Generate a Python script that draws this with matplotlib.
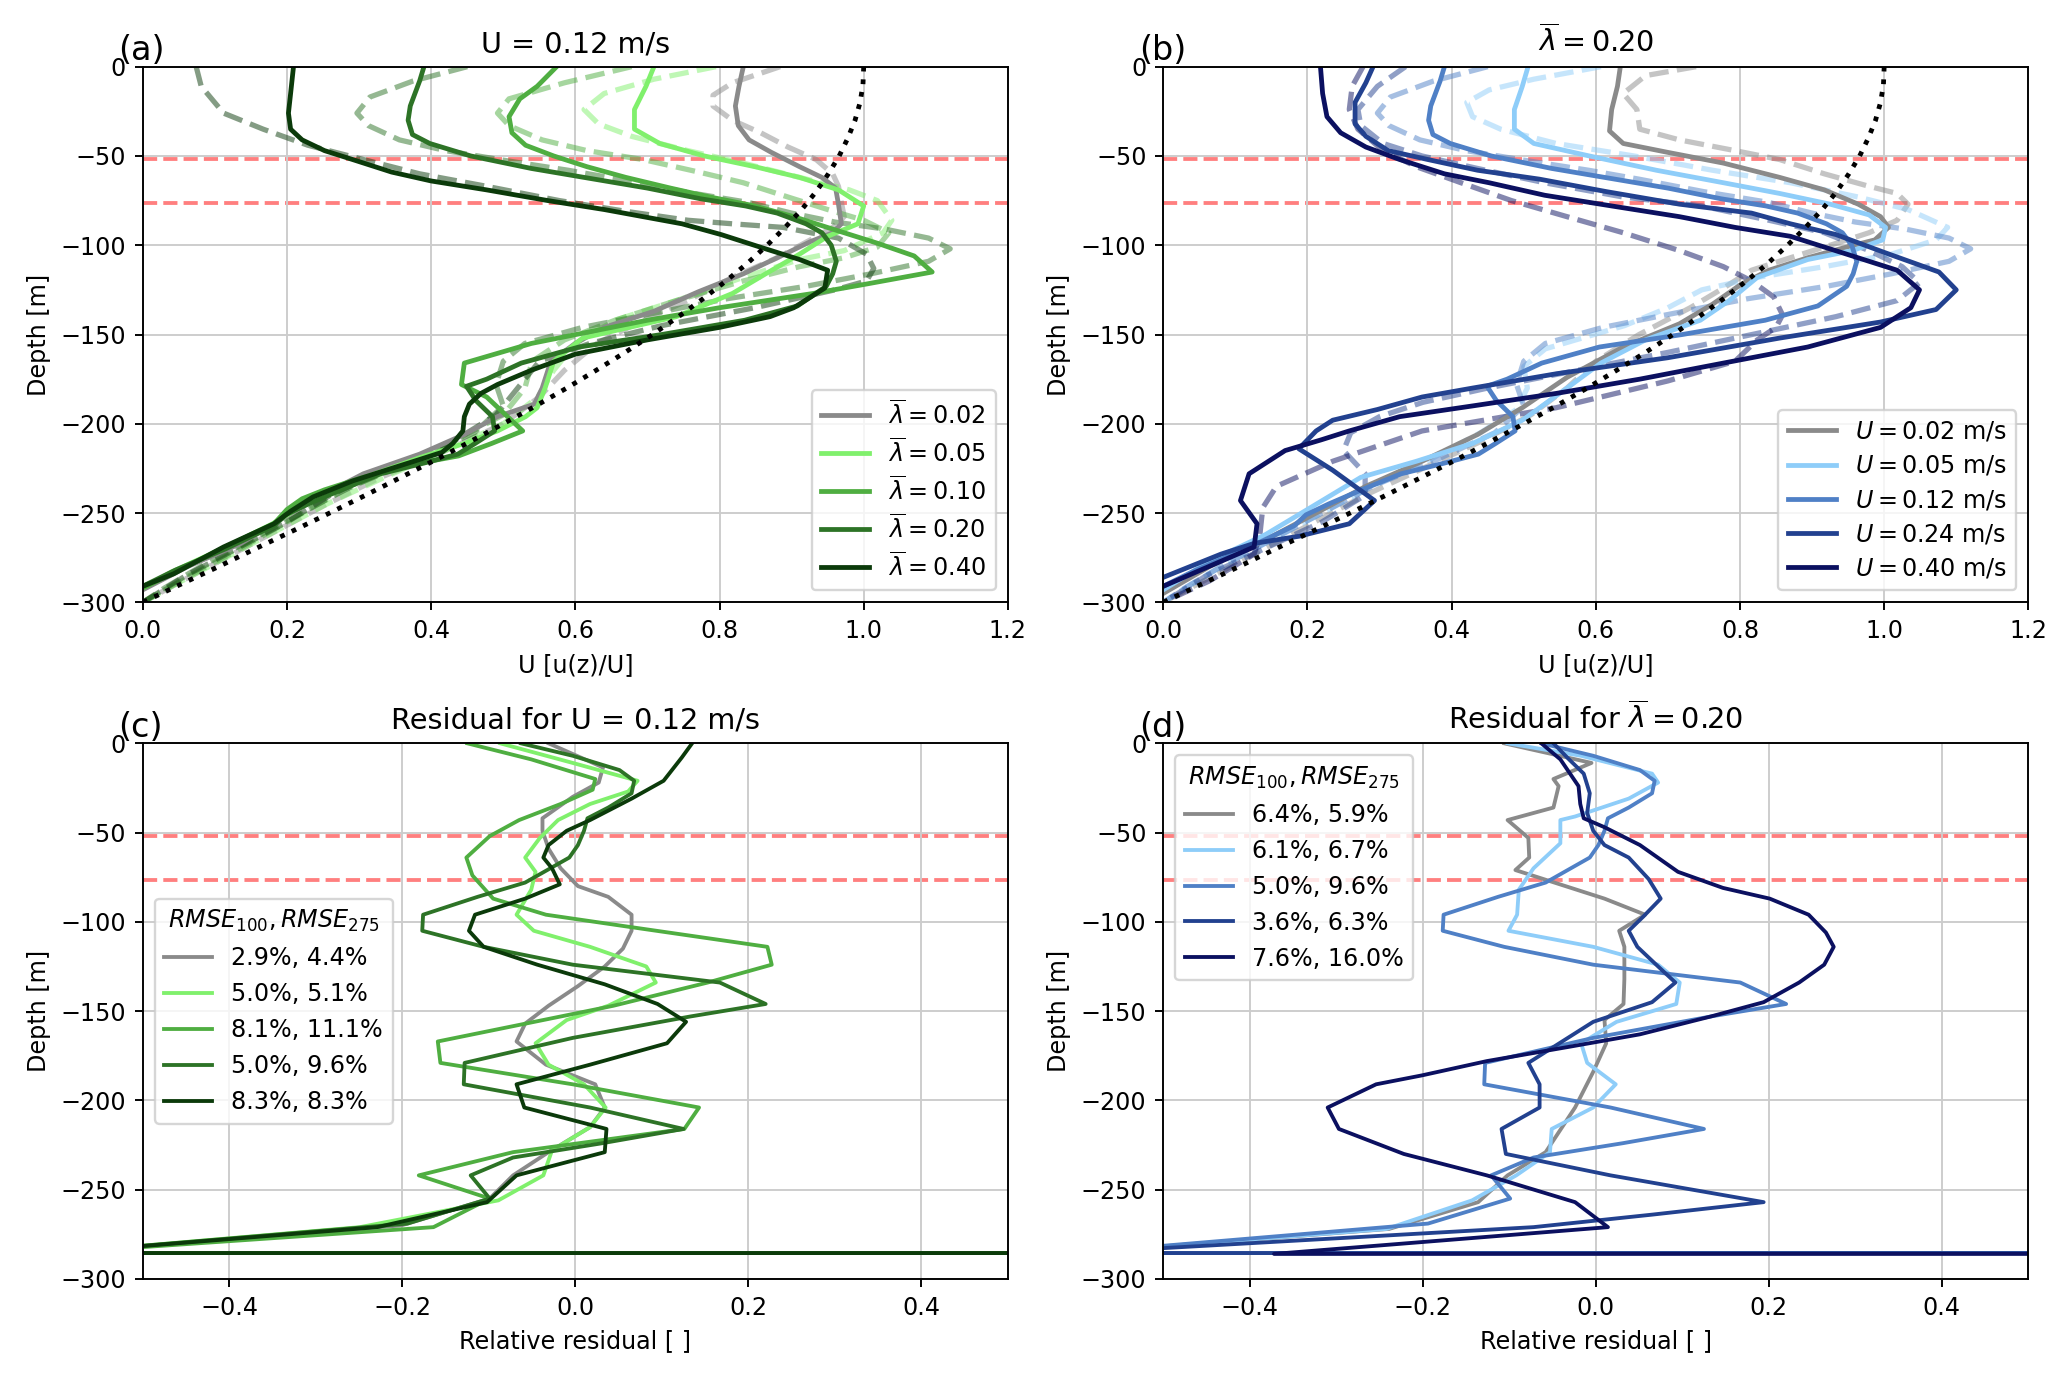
import matplotlib
matplotlib.use("Agg")
import matplotlib.pyplot as plt

# ---------------- data ----------------
# reference profile (dotted)
ref_z = [0, -10, -20, -30, -40, -50, -60, -70, -80, -90, -100, -110, -120, -130, -140, -150,
         -160, -170, -180, -190, -200, -210, -220, -230, -240, -250, -260, -270, -280, -290, -300]
ref_u = [1.000, 0.999, 0.995, 0.988, 0.978, 0.966, 0.951, 0.934, 0.914, 0.891, 0.866, 0.839,
         0.809, 0.777, 0.743, 0.707, 0.669, 0.629, 0.588, 0.545, 0.500, 0.454, 0.407, 0.358,
         0.309, 0.259, 0.208, 0.156, 0.105, 0.052, 0.0]

red_depths = [-51.8, -76.6]

# panel (a): U = 0.12 m/s, varying lambda
lam_labels = ["0.02", "0.05", "0.10", "0.20", "0.40"]

a_z_lam002 = [0, -11, -22, -33, -41, -48, -56, -62, -68, -77, -88, -93, -98, -107, -116, -126, -137,
              -146, -155, -165, -180, -189, -196, -206, -217, -228, -241, -252, -267, -280, -293]
a_u_lam002 = [0.833, 0.827, 0.822, 0.826, 0.841, 0.872, 0.911, 0.942, 0.961, 0.965, 0.969, 0.957,
              0.926, 0.880, 0.833, 0.771, 0.709, 0.640, 0.600, 0.566, 0.554, 0.543, 0.492, 0.446,
              0.384, 0.306, 0.244, 0.198, 0.136, 0.062, 0.0]

a_z_lam005 = [0, -11, -24, -35, -43, -50, -56, -62, -69, -78, -88, -95, -105, -116, -127, -140, -152,
              -165, -180, -191, -196, -204, -211, -219, -228, -237, -246, -256, -270, -283, -292]
a_u_lam005 = [0.709, 0.698, 0.682, 0.682, 0.717, 0.779, 0.849, 0.911, 0.965, 1.000, 0.992, 0.950,
              0.911, 0.864, 0.818, 0.740, 0.610, 0.570, 0.558, 0.547, 0.531, 0.492, 0.446, 0.384,
              0.322, 0.260, 0.221, 0.180, 0.110, 0.040, 0.0]

a_z_lam010 = [0, -11, -18, -28, -37, -44, -50, -56, -62, -68, -73, -78, -84, -92, -99, -106, -115,
              -122, -127, -135, -142, -155, -166, -178, -185, -204, -211, -218, -222, -230, -237,
              -242, -248, -256, -270, -283, -292]
a_u_lam010 = [0.574, 0.547, 0.523, 0.508, 0.512, 0.531, 0.570, 0.616, 0.670, 0.732, 0.787, 0.849,
              0.903, 0.965, 1.020, 1.070, 1.095, 1.000, 0.930, 0.800, 0.700, 0.539, 0.446, 0.442,
              0.477, 0.527, 0.484, 0.438, 0.384, 0.306, 0.252, 0.221, 0.200, 0.182, 0.110, 0.045, 0.0]

# lambda = 0.20 at U = 0.12 m/s (shared by panels a and b)
z_lam020_U012 = [0, -8, -22, -30, -38, -43, -50, -57, -62, -68, -74, -78, -82, -88, -93, -100, -109,
                 -116, -123, -134, -142, -150, -157, -166, -175, -179, -187, -196, -204, -211, -217,
                 -222, -228, -237, -245, -251, -257, -270, -282, -291]
u_lam020_U012 = [0.390, 0.384, 0.371, 0.368, 0.374, 0.398, 0.455, 0.539, 0.612, 0.700, 0.774, 0.836,
                 0.880, 0.920, 0.942, 0.955, 0.962, 0.957, 0.948, 0.908, 0.835, 0.720, 0.605, 0.525,
                 0.477, 0.449, 0.462, 0.485, 0.488, 0.461, 0.437, 0.390, 0.330, 0.275, 0.229, 0.198,
                 0.182, 0.115, 0.045, 0.0]

a_z_lam040 = [0, -15, -26, -35, -41, -47, -52, -59, -64, -69, -75, -80, -84, -88, -94, -101, -108,
              -114, -124, -135, -140, -146, -153, -161, -170, -178, -183, -189, -196, -204, -211,
              -216, -220, -225, -232, -241, -249, -256, -269, -284, -291]
a_u_lam040 = [0.209, 0.205, 0.202, 0.205, 0.221, 0.252, 0.291, 0.345, 0.400, 0.477, 0.562, 0.640,
              0.694, 0.748, 0.802, 0.856, 0.911, 0.950, 0.946, 0.903, 0.870, 0.800, 0.700, 0.600,
              0.539, 0.492, 0.469, 0.453, 0.446, 0.444, 0.430, 0.415, 0.384, 0.345, 0.291, 0.236,
              0.205, 0.182, 0.112, 0.043, 0.0]

# dashed comparison profiles, panel (a)
a_z_ref002 = [0, -9, -16, -22, -30, -37, -45, -52, -60, -67, -76, -84, -90, -97, -107, -118, -131,
              -142, -155, -170, -185, -200, -215, -230, -245, -260, -275, -290, -300]
a_u_ref002 = [0.884, 0.818, 0.791, 0.791, 0.818, 0.857, 0.895, 0.934, 0.957, 0.965, 0.969, 0.973,
              0.957, 0.926, 0.880, 0.818, 0.756, 0.694, 0.630, 0.585, 0.550, 0.500, 0.420, 0.330,
              0.255, 0.185, 0.115, 0.045, 0.0]

a_z_ref005 = [0, -7, -15, -24, -32, -39, -47, -54, -62, -69, -75, -86, -93, -103, -108, -118, -131,
              -142, -155, -170, -185, -200, -215, -230, -245, -260, -275, -290, -300]
a_u_ref005 = [0.795, 0.709, 0.640, 0.612, 0.632, 0.678, 0.756, 0.833, 0.911, 0.980, 1.019, 1.039,
              1.027, 0.973, 0.911, 0.833, 0.740, 0.655, 0.600, 0.570, 0.548, 0.500, 0.420, 0.335,
              0.255, 0.185, 0.115, 0.045, 0.0]

a_z_ref010 = [0, -9, -18, -26, -33, -41, -47, -52, -59, -65, -73, -80, -86, -93, -101, -107, -112,
              -120, -131, -142, -153, -165, -180, -195, -210, -225, -240, -255, -270, -285, -300]
a_u_ref010 = [0.678, 0.585, 0.508, 0.492, 0.508, 0.554, 0.616, 0.694, 0.771, 0.833, 0.895, 0.950,
              1.000, 1.035, 1.019, 0.973, 0.911, 0.833, 0.740, 0.655, 0.585, 0.540, 0.530, 0.500,
              0.430, 0.345, 0.265, 0.200, 0.135, 0.065, 0.0]

z_ref_lam020_U012 = [0, -8, -17, -26, -33, -41, -47, -53, -58, -63, -70, -76, -82, -87, -91, -96,
                     -102, -109, -116, -123, -130, -138, -146, -155, -165, -178, -190, -205, -220,
                     -235, -250, -265, -280, -292, -300]
u_ref_lam020_U012 = [0.450, 0.375, 0.315, 0.297, 0.313, 0.356, 0.420, 0.510, 0.590, 0.660, 0.750,
                     0.840, 0.900, 0.960, 1.030, 1.090, 1.120, 1.090, 1.010, 0.920, 0.810, 0.710,
                     0.610, 0.530, 0.500, 0.490, 0.500, 0.460, 0.380, 0.290, 0.220, 0.150, 0.080,
                     0.030, 0.0]

a_z_ref040 = [0, -11, -26, -35, -44, -52, -60, -67, -75, -81, -86, -88, -90, -96, -105, -113, -120,
              -125, -135, -145, -155, -165, -180, -195, -210, -225, -240, -255, -270, -285, -300]
a_u_ref040 = [0.074, 0.081, 0.112, 0.167, 0.229, 0.306, 0.384, 0.477, 0.578, 0.670, 0.756, 0.818,
              0.888, 0.965, 1.004, 1.014, 1.004, 0.960, 0.849, 0.720, 0.620, 0.550, 0.520, 0.490,
              0.430, 0.340, 0.260, 0.200, 0.130, 0.060, 0.0]

# panel (b): lambda = 0.20, varying U
U_labels = ["0.02", "0.05", "0.12", "0.24", "0.40"]

b_z_U002 = [0, -11, -24, -36, -43, -48, -54, -62, -69, -77, -84, -90, -97, -101, -107, -114, -122,
            -133, -144, -157, -174, -191, -206, -221, -235, -250, -265, -280, -295]
b_u_U002 = [0.634, 0.630, 0.622, 0.619, 0.638, 0.700, 0.777, 0.855, 0.917, 0.964, 0.995, 1.006,
            0.987, 0.948, 0.894, 0.840, 0.801, 0.762, 0.716, 0.638, 0.560, 0.498, 0.436, 0.359,
            0.281, 0.212, 0.142, 0.064, 0.0]

b_z_U005 = [0, -11, -24, -35, -43, -50, -58, -65, -71, -77, -83, -90, -97, -103, -108, -118, -131,
            -142, -153, -166, -180, -198, -211, -221, -230, -247, -262, -277, -293]
b_u_U005 = [0.506, 0.498, 0.487, 0.487, 0.514, 0.591, 0.684, 0.777, 0.855, 0.925, 0.979, 1.002,
            0.998, 0.956, 0.894, 0.824, 0.785, 0.745, 0.669, 0.607, 0.560, 0.498, 0.429, 0.351,
            0.274, 0.204, 0.142, 0.064, 0.0]

b_z_U024 = [0, -9, -20, -32, -39, -47, -52, -58, -63, -70, -77, -82, -88, -94, -104, -115, -125,
            -136, -143, -152, -163, -172, -180, -185, -192, -198, -204, -214, -226, -243, -256,
            -263, -267, -273, -286]
b_u_U024 = [0.291, 0.281, 0.266, 0.266, 0.281, 0.312, 0.367, 0.436, 0.522, 0.615, 0.716, 0.816,
            0.870, 0.933, 1.000, 1.076, 1.100, 1.072, 0.995, 0.855, 0.700, 0.545, 0.429, 0.359,
            0.297, 0.235, 0.212, 0.188, 0.235, 0.293, 0.258, 0.188, 0.126, 0.080, 0.0]

b_z_U040 = [0, -15, -28, -37, -45, -52, -60, -65, -72, -78, -84, -90, -95, -105, -114, -125, -135,
            -146, -157, -166, -175, -183, -190, -196, -204, -209, -215, -228, -243, -256, -269,
            -277, -291]
b_u_U040 = [0.218, 0.221, 0.227, 0.246, 0.281, 0.328, 0.390, 0.452, 0.529, 0.622, 0.716, 0.793,
            0.870, 0.948, 1.018, 1.049, 1.037, 0.995, 0.894, 0.777, 0.661, 0.545, 0.429, 0.328,
            0.258, 0.219, 0.169, 0.119, 0.107, 0.130, 0.126, 0.080, 0.0]

b_z_ref002 = [0, -5, -15, -24, -35, -41, -47, -52, -60, -67, -71, -77, -86, -93, -99, -107, -114,
              -124, -135, -150, -165, -180, -195, -210, -225, -240, -255, -270, -285, -300]
b_u_ref002 = [0.739, 0.669, 0.638, 0.657, 0.661, 0.716, 0.793, 0.855, 0.917, 0.979, 1.018, 1.033,
              1.018, 0.979, 0.933, 0.870, 0.816, 0.777, 0.731, 0.660, 0.600, 0.560, 0.510, 0.440,
              0.360, 0.280, 0.210, 0.140, 0.070, 0.0]

b_z_ref005 = [0, -7, -13, -20, -28, -35, -43, -50, -58, -65, -73, -80, -90, -97, -105, -112, -118,
              -125, -135, -145, -158, -168, -180, -192, -205, -220, -235, -250, -265, -280, -292, -300]
b_u_ref005 = [0.607, 0.514, 0.452, 0.421, 0.429, 0.468, 0.545, 0.653, 0.762, 0.870, 0.964, 1.033,
              1.088, 1.072, 1.010, 0.917, 0.824, 0.747, 0.700, 0.640, 0.530, 0.500, 0.505, 0.490,
              0.440, 0.370, 0.290, 0.220, 0.150, 0.080, 0.030, 0.0]

b_z_ref024 = [0, -11, -24, -33, -43, -50, -57, -65, -73, -78, -86, -93, -103, -112, -121, -131,
              -140, -148, -160, -172, -180, -188, -196, -205, -215, -228, -240, -255, -270, -285, -300]
b_u_ref024 = [0.336, 0.297, 0.270, 0.274, 0.305, 0.359, 0.436, 0.529, 0.638, 0.747, 0.840, 0.917,
              0.979, 1.025, 1.049, 1.018, 0.933, 0.840, 0.700, 0.550, 0.450, 0.360, 0.300, 0.260,
              0.250, 0.280, 0.280, 0.220, 0.140, 0.060, 0.0]

b_z_ref040 = [0, -11, -24, -35, -47, -56, -65, -75, -84, -93, -103, -112, -120, -129, -139, -146,
              -153, -165, -176, -191, -204, -221, -235, -247, -262, -273, -288, -300]
b_u_ref040 = [0.277, 0.262, 0.258, 0.270, 0.305, 0.351, 0.413, 0.483, 0.560, 0.638, 0.716, 0.777,
              0.816, 0.847, 0.859, 0.850, 0.824, 0.793, 0.700, 0.545, 0.359, 0.235, 0.157, 0.138,
              0.134, 0.126, 0.064, 0.0]

# panel (c): residuals for U = 0.12 m/s
c_labels = ["2.9%, 4.4%", "5.0%, 5.1%", "8.1%, 11.1%", "5.0%, 9.6%", "8.3%, 8.3%"]

c_z_lam002 = [0, -13.5, -22, -30, -42, -49, -59, -70, -80, -86, -96, -105, -115, -125, -136, -147,
              -157, -167, -180, -191, -204, -215, -229, -242, -255, -270, -285.5, -286.2]
c_r_lam002 = [-0.031, 0.032, 0.027, -0.003, -0.038, -0.038, -0.031, -0.017, 0.003, 0.038, 0.065,
              0.065, 0.055, 0.034, 0.003, -0.031, -0.058, -0.068, -0.034, 0.023, 0.034, 0.017,
              -0.031, -0.072, -0.099, -0.201, -0.60, 40.0]

c_z_lam005 = [0, -11, -21, -27, -34, -43, -53, -64, -72, -82, -96, -105, -114, -125, -134, -147,
              -155, -168, -180, -191, -204, -215, -228, -242, -256, -271, -285.5, -286.2]
c_r_lam005 = [-0.087, -0.003, 0.072, 0.061, 0.017, -0.020, -0.041, -0.058, -0.046, -0.051, -0.068,
              -0.048, 0.017, 0.082, 0.093, 0.038, -0.010, -0.046, -0.031, 0.010, 0.035, 0.017,
              -0.027, -0.037, -0.089, -0.249, -0.60, 40.0]

c_z_lam010 = [0, -9, -20, -26, -34, -43, -52, -64, -74, -87, -96, -103, -114, -124, -134, -147,
              -167, -179, -191, -204, -216, -229, -242, -255, -271, -285.5, -286.2]
c_r_lam010 = [-0.125, -0.051, 0.023, 0.020, -0.017, -0.065, -0.099, -0.126, -0.119, -0.095,
              -0.034, 0.065, 0.222, 0.227, 0.153, 0.044, -0.159, -0.156, -0.003, 0.143, 0.126,
              -0.072, -0.181, -0.099, -0.164, -0.60, 40.0]

# residual for lambda = 0.20, U = 0.12 m/s (shared by panels c and d)
z_res_lam020_U012 = [0, -7, -15, -21, -28, -36, -42, -49, -57, -64, -78, -86, -96, -105, -114, -124,
                     -134, -146, -153, -165, -179, -191, -204, -216, -224, -232, -242, -255, -269,
                     -285.5, -286.2]
r_res_lam020_U012 = [-0.063, -0.003, 0.051, 0.068, 0.065, 0.038, 0.014, 0.010, 0.003, -0.007,
                     -0.058, -0.113, -0.176, -0.177, -0.106, -0.003, 0.167, 0.220, 0.133, -0.003,
                     -0.128, -0.129, 0.017, 0.125, 0.031, -0.072, -0.121, -0.099, -0.194, -0.60, 40.0]

c_z_lam040 = [0, -8, -21, -31, -43, -49, -57, -64, -70, -79, -87, -96, -105, -114, -124, -135,
              -146, -156, -168, -180, -191, -204, -216, -229, -242, -257, -271, -285.5, -286.2]
c_r_lam040 = [0.135, 0.123, 0.102, 0.065, 0.017, -0.010, -0.031, -0.037, -0.027, -0.018, -0.058,
              -0.116, -0.123, -0.106, -0.044, 0.034, 0.095, 0.128, 0.106, 0.017, -0.068, -0.059,
              0.036, 0.034, -0.068, -0.102, -0.229, -0.60, 40.0]

# panel (d): residuals for lambda = 0.20
d_labels = ["6.4%, 5.9%", "6.1%, 6.7%", "5.0%, 9.6%", "3.6%, 6.3%", "7.6%, 16.0%"]

d_z_U002 = [0, -11, -20, -24, -36, -43, -53, -64, -71, -87, -96, -105, -114, -132, -146, -155, -168,
            -184, -204, -229, -242, -257, -272, -285.5, -286.2]
d_r_U002 = [-0.106, -0.005, -0.049, -0.043, -0.049, -0.102, -0.078, -0.077, -0.093, 0.010, 0.057,
            0.027, 0.033, 0.033, 0.032, 0.010, 0.012, -0.003, -0.024, -0.058, -0.102, -0.136,
            -0.239, -0.60, 40.0]

d_z_U005 = [0, -7, -17, -22, -31, -41, -43, -56, -70, -82, -96, -105, -114, -124, -134, -146, -156,
            -168, -179, -191, -204, -216, -229, -242, -256, -272, -285.5, -286.2]
d_r_U005 = [-0.102, -0.017, 0.065, 0.072, 0.038, -0.024, -0.041, -0.041, -0.072, -0.089, -0.091,
            -0.101, -0.003, 0.072, 0.097, 0.093, 0.024, -0.017, -0.010, 0.023, -0.003, -0.051,
            -0.053, -0.092, -0.143, -0.242, -0.60, 40.0]

d_z_U024 = [0, -9, -17, -28, -39, -49, -57, -64, -76, -87, -97, -105, -114, -125, -134, -145, -156,
            -179, -191, -204, -216, -230, -242, -257, -264, -271, -285.5, -286.2]
d_r_U024 = [-0.049, -0.031, -0.014, -0.007, -0.010, -0.003, 0.010, 0.038, 0.061, 0.075, 0.055,
            0.038, 0.048, 0.072, 0.092, 0.065, -0.003, -0.078, -0.065, -0.065, -0.109, -0.104,
            0.017, 0.194, 0.065, -0.072, -0.60, 40.0]

d_z_U040 = [0, -9, -24, -34, -42, -47, -57, -72, -81, -87, -96, -106, -114, -124, -134, -145, -153,
            -163, -170, -178, -186, -191, -204, -216, -230, -242, -257, -271, -286, -286.2]
d_r_U040 = [-0.063, -0.041, -0.020, -0.018, -0.014, 0.010, 0.051, 0.095, 0.147, 0.201, 0.246,
            0.266, 0.275, 0.264, 0.235, 0.194, 0.133, 0.051, -0.031, -0.126, -0.201, -0.254,
            -0.310, -0.297, -0.222, -0.126, -0.024, 0.014, -0.372, 40.0]

# ---------------- styles ----------------
greens = ["#8a8a8a", "#80f06c", "#4fae41", "#2d7326", "#0b3a0a"]
blues = ["#8a8a8a", "#8ecdf9", "#4f80c6", "#22418f", "#0b1060"]

# ---------------- figure ----------------
fig = plt.figure(figsize=(12, 8), dpi=172.25)
W, H = 0.4185, 0.3887
ax_a = fig.add_axes([0.0691, 0.5629, W, H])
ax_b = fig.add_axes([0.5628, 0.5629, W, H])
ax_c = fig.add_axes([0.0691, 0.0719, W, H])
ax_d = fig.add_axes([0.5628, 0.0719, W, H])

def red_lines(ax):
    for d in red_depths:
        ax.axhline(d, color="red", alpha=0.5, lw=1.6, ls="--", zorder=1.5)

# panel (a)
a_sol = [(a_u_lam002, a_z_lam002), (a_u_lam005, a_z_lam005), (a_u_lam010, a_z_lam010),
         (u_lam020_U012, z_lam020_U012), (a_u_lam040, a_z_lam040)]
a_ref = [(a_u_ref002, a_z_ref002), (a_u_ref005, a_z_ref005), (a_u_ref010, a_z_ref010),
         (u_ref_lam020_U012, z_ref_lam020_U012), (a_u_ref040, a_z_ref040)]
for (u, z), c in zip(a_ref, greens):
    ax_a.plot(u, z, color=c, lw=2.2, ls="--", alpha=0.5)
for (u, z), c, lab in zip(a_sol, greens, lam_labels):
    ax_a.plot(u, z, color=c, lw=2, label=r"$\overline{\lambda} = %s$" % lab)
ax_a.plot(ref_u, ref_z, color="black", ls=":", lw=2)

# panel (b)
b_sol = [(b_u_U002, b_z_U002), (b_u_U005, b_z_U005), (u_lam020_U012, z_lam020_U012),
         (b_u_U024, b_z_U024), (b_u_U040, b_z_U040)]
b_ref = [(b_u_ref002, b_z_ref002), (b_u_ref005, b_z_ref005), (u_ref_lam020_U012, z_ref_lam020_U012),
         (b_u_ref024, b_z_ref024), (b_u_ref040, b_z_ref040)]
for (u, z), c in zip(b_ref, blues):
    ax_b.plot(u, z, color=c, lw=2.2, ls="--", alpha=0.5)
for (u, z), c, lab in zip(b_sol, blues, U_labels):
    ax_b.plot(u, z, color=c, lw=2, label=r"$U = %s$ m/s" % lab)
ax_b.plot(ref_u, ref_z, color="black", ls=":", lw=2)

for ax in (ax_a, ax_b):
    red_lines(ax)
    ax.set_xlim(0, 1.2)
    ax.set_ylim(-300, 0)
    ax.set_xlabel("U [u(z)/U]")
    ax.set_ylabel("Depth [m]")
    ax.grid(True, color="#cccccc", lw=0.8)

ax_a.legend(loc="lower right", labelspacing=0.38)
ax_b.legend(loc="lower right", labelspacing=0.43)
ax_a.set_title("U = 0.12 m/s")
ax_b.set_title(r"$\overline{\lambda} = 0.20$")

# panel (c)
c_res = [(c_r_lam002, c_z_lam002), (c_r_lam005, c_z_lam005), (c_r_lam010, c_z_lam010),
         (r_res_lam020_U012, z_res_lam020_U012), (c_r_lam040, c_z_lam040)]
for (r, z), c, lab in zip(c_res, greens, c_labels):
    ax_c.plot(r, z, color=c, lw=1.6, label=lab)

# panel (d)
d_res = [(d_r_U002, d_z_U002), (d_r_U005, d_z_U005), (r_res_lam020_U012, z_res_lam020_U012),
         (d_r_U024, d_z_U024), (d_r_U040, d_z_U040)]
for (r, z), c, lab in zip(d_res, blues, d_labels):
    ax_d.plot(r, z, color=c, lw=1.6, label=lab)

for ax in (ax_c, ax_d):
    red_lines(ax)
    ax.set_xlim(-0.5, 0.5)
    ax.set_ylim(-300, 0)
    ax.set_xticks([-0.4, -0.2, 0.0, 0.2, 0.4])
    ax.set_xlabel("Relative residual [ ]")
    ax.set_ylabel("Depth [m]")
    ax.grid(True, color="#cccccc", lw=0.8)

ax_c.legend(loc="center left", title=r"$RMSE_{100}, RMSE_{275}$")
ax_d.legend(loc="upper left", title=r"$RMSE_{100}, RMSE_{275}$")
ax_c.set_title("Residual for U = 0.12 m/s")
ax_d.set_title(r"Residual for $\overline{\lambda} = 0.20$")

for ax, lab in zip((ax_a, ax_b, ax_c, ax_d), ("(a)", "(b)", "(c)", "(d)")):
    ax.set_yticks([0, -50, -100, -150, -200, -250, -300])
    ax.text(-0.028, 1.012, lab, transform=ax.transAxes, fontsize=14,
            ha="left", va="baseline")

fig.savefig("out.png", dpi=172.25)
